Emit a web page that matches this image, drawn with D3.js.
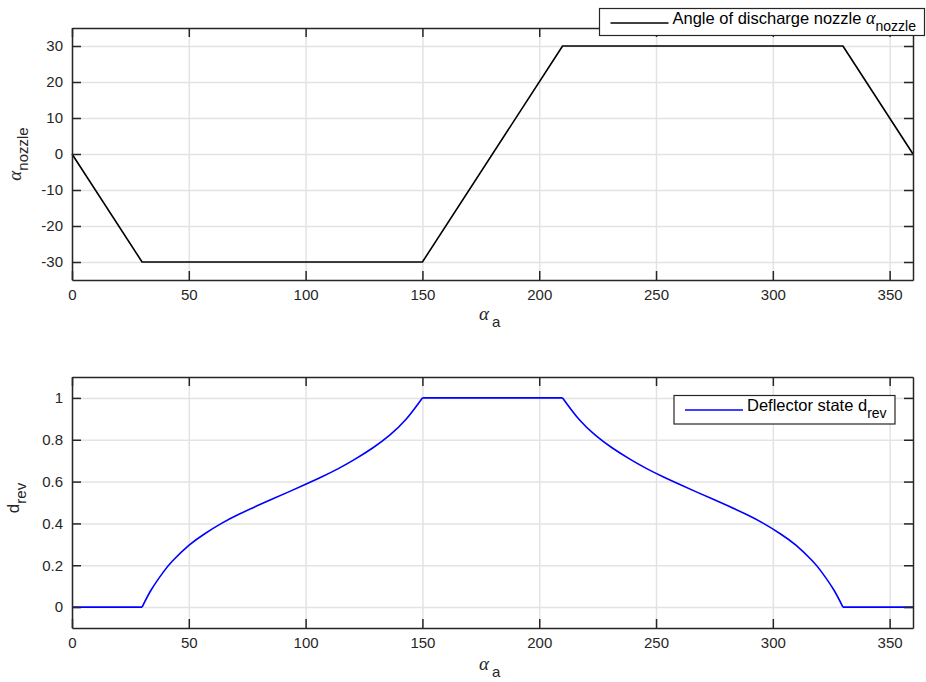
<!DOCTYPE html>
<html>
<head>
<meta charset="utf-8">
<script src="https://cdn.jsdelivr.net/npm/d3@7"></script>
<style>
  body { margin: 0; background: #fff; }
  svg { display: block; font-family: "Liberation Sans", Arial, sans-serif; }
  .tick text { fill: #262626; font-size: 15px; }
  .grid line { stroke: #e3e3e3; stroke-width: 1.5; }
  .grid path { display: none; }
  .frame path, .frame line { stroke: #262626; stroke-width: 1.5; }
  .greek { font-family: "Liberation Serif", "DejaVu Serif", serif; font-style: italic; }
</style>
</head>
<body>
<div id="chart"></div>
<script>
var w = 926;
var h = 682;

// nozzle angle vs alpha_a
var nozzleAngle = [0, 30, 150, 210, 330, 360];
var nozzleValue = [0, -30, -30, 30, 30, 0];

// deflector state vs alpha_a, one array per piece
var deflFlat1 = [[0, 0], [30, 0]];
var deflRise = [[30, 0], [34, 0.084], [39, 0.166], [43, 0.22], [50, 0.295], [57, 0.352], [64, 0.4], [71, 0.441],
                [79, 0.483], [86, 0.518], [93, 0.552], [100, 0.587], [107, 0.623], [114, 0.662], [121, 0.706],
                [129, 0.763], [136, 0.822], [143, 0.898], [150, 1]];
var deflFlat2 = [[150, 1], [210, 1]];
var deflFall = [[210, 1], [217, 0.898], [224, 0.822], [231, 0.763], [239, 0.706], [246, 0.662], [253, 0.623], [260, 0.587],
                [267, 0.552], [274, 0.518], [281, 0.483], [289, 0.441], [296, 0.4], [303, 0.352], [310, 0.295],
                [317, 0.22], [321, 0.166], [326, 0.084], [330, 0]];
var deflFlat3 = [[330, 0], [360, 0]];

var xTicks = [0, 50, 100, 150, 200, 250, 300, 350];
var topYTicks = [-30, -20, -10, 0, 10, 20, 30];
var botYTicks = [0, 0.2, 0.4, 0.6, 0.8, 1];

var svg = d3.select("#chart")
  .append("svg")
  .attr("width", w)
  .attr("height", h);

var left = 72, right = 913;
var tk = 9;

function panel(top, bottom, yDomain, yTicks, pieces, color, curve, yFmt) {
  var x = d3.scaleLinear().domain([0, 360]).range([left, right]);
  var y = d3.scaleLinear().domain(yDomain).range([bottom, top]);

  // grid
  svg.append("g").attr("class", "grid")
    .attr("transform", "translate(0," + bottom + ")")
    .call(d3.axisBottom(x).tickValues(xTicks).tickSize(-(bottom - top)).tickFormat(""));
  svg.append("g").attr("class", "grid")
    .attr("transform", "translate(" + left + ",0)")
    .call(d3.axisLeft(y).tickValues(yTicks).tickSize(-(right - left)).tickFormat(""));

  // data
  var line = d3.line()
    .x(function(d) { return x(d[0]); })
    .y(function(d) { return y(d[1]); })
    .curve(curve);
  svg.append("path")
    .attr("fill", "none")
    .attr("stroke", color)
    .attr("stroke-width", 1.6)
    .attr("stroke-linejoin", "round")
    .attr("d", pieces.map(function(p) { return line(p); }).join(""));

  // box axes, ticks inward
  svg.append("g").attr("class", "frame")
    .attr("transform", "translate(0," + bottom + ")")
    .call(d3.axisBottom(x).tickValues(xTicks).tickSizeInner(-tk).tickSizeOuter(0).tickPadding(9));
  svg.append("g").attr("class", "frame")
    .attr("transform", "translate(0," + top + ")")
    .call(d3.axisTop(x).tickValues(xTicks).tickSizeInner(-tk).tickSizeOuter(0).tickFormat(""));
  svg.append("g").attr("class", "frame")
    .attr("transform", "translate(" + left + ",0)")
    .call(d3.axisLeft(y).tickValues(yTicks).tickSizeInner(-tk).tickSizeOuter(0).tickPadding(9).tickFormat(yFmt));
  svg.append("g").attr("class", "frame")
    .attr("transform", "translate(" + right + ",0)")
    .call(d3.axisRight(y).tickValues(yTicks).tickSizeInner(-tk).tickSizeOuter(0).tickFormat(""));

  svg.selectAll(".frame .tick text").attr("font-family", null).attr("font-size", null);
}

var nozzlePts = nozzleAngle.map(function(d, i) { return [d, nozzleValue[i]]; });
panel(28, 280, [-35, 35], topYTicks, [nozzlePts], "#000000", d3.curveLinear,
  function(d) { return String(d); });
panel(377, 628, [-0.1, 1.1], botYTicks, [deflFlat1, deflRise, deflFlat2, deflFall, deflFlat3], "#0000ff", d3.curveNatural,
  function(d) { return d === 0 || d === 1 ? String(d) : d3.format(".1f")(d); });

// x labels
function xLabel(yPos) {
  var t = svg.append("text")
    .attr("x", 479).attr("y", yPos)
    .attr("fill", "#262626")
    .attr("font-size", 19);
  t.append("tspan").attr("class", "greek").text("\u03B1");
  t.append("tspan").attr("font-size", 15).attr("dy", 7).attr("dx", 3).text("a");
}
xLabel(320);
xLabel(670);

// y labels
var yl1 = svg.append("text")
  .attr("transform", "translate(21,154) rotate(-90)")
  .attr("text-anchor", "middle")
  .attr("fill", "#262626")
  .attr("font-size", 19);
yl1.append("tspan").attr("class", "greek").text("\u03B1");
yl1.append("tspan").attr("font-size", 15).attr("dy", 7).text("nozzle");

var yl2 = svg.append("text")
  .attr("transform", "translate(19,498) rotate(-90)")
  .attr("text-anchor", "middle")
  .attr("fill", "#262626")
  .attr("font-size", 17);
yl2.append("tspan").text("d");
yl2.append("tspan").attr("font-size", 15).attr("dy", 7).text("rev");

// legends
function legend(bx, by, bw, bh, color, build) {
  var g = svg.append("g");
  g.append("rect")
    .attr("x", bx).attr("y", by).attr("width", bw).attr("height", bh)
    .attr("fill", "#fff").attr("stroke", "#262626").attr("stroke-width", 1.2);
  g.append("line")
    .attr("x1", bx + 11).attr("x2", bx + 69)
    .attr("y1", by + 14.5).attr("y2", by + 14.5)
    .attr("stroke", color).attr("stroke-width", 1.6);
  var t = g.append("text")
    .attr("x", bx + 73).attr("y", by + 15)
    .attr("fill", "#000")
    .attr("font-size", 16.5);
  build(t);
}

legend(599.5, 8.5, 325, 27, "#000000", function(t) {
  t.append("tspan").text("Angle of discharge nozzle ");
  t.append("tspan").attr("class", "greek").attr("font-size", 18).text("\u03B1");
  t.append("tspan").attr("font-size", 14).attr("dy", 7).text("nozzle");
});
legend(674, 395.5, 221, 28.5, "#0000ff", function(t) {
  t.append("tspan").text("Deflector state d");
  t.append("tspan").attr("font-size", 14).attr("dy", 7).text("rev");
});
</script>
</body>
</html>
